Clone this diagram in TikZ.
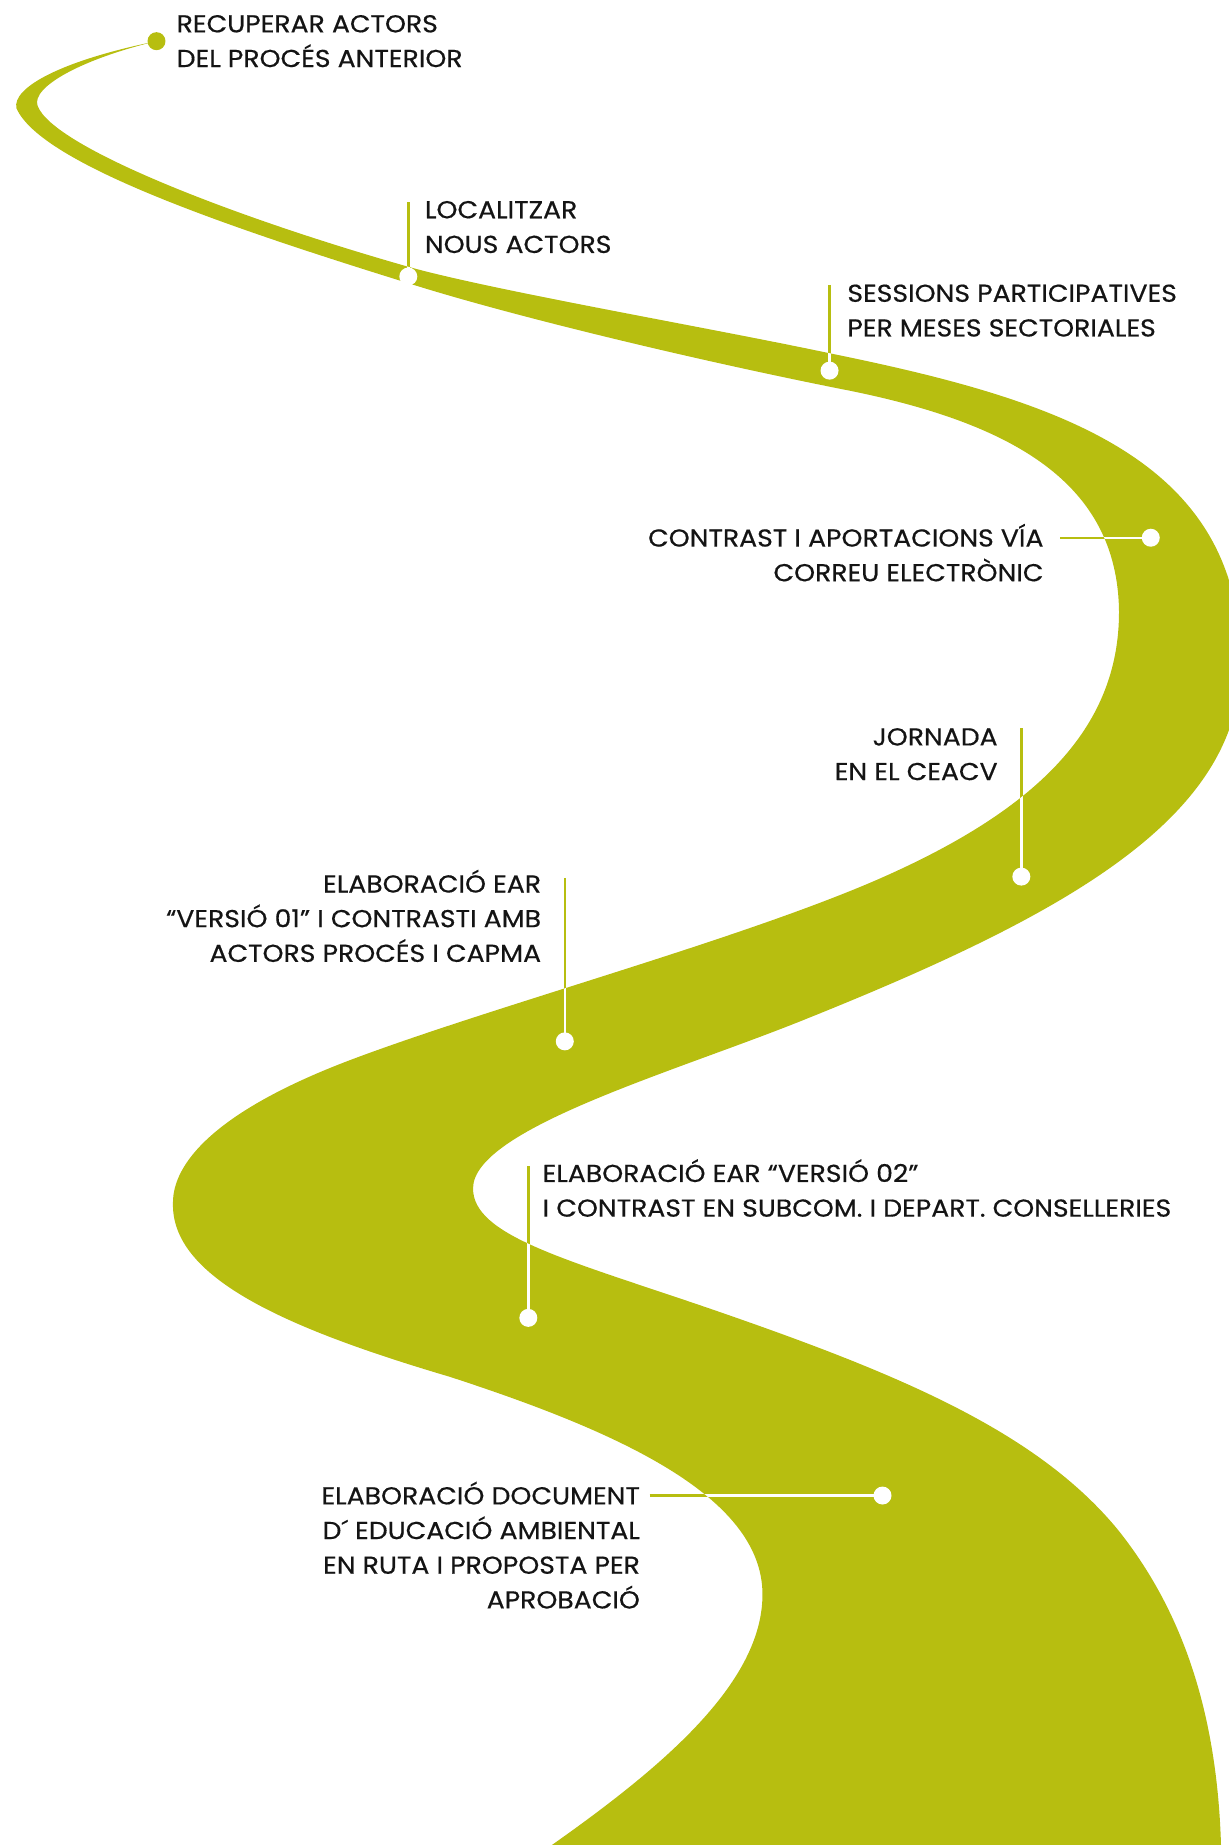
\documentclass[tikz,border=0pt]{standalone}
\usepackage{fontspec}
\setmainfont{Poppins}[FakeStretch=1.09,FakeBold=0.5]
\definecolor{road}{RGB}{183,190,16}
\definecolor{ink}{RGB}{20,20,20}
\begin{document}
\begin{tikzpicture}[x=1.1772pt,y=-1.1772pt,
  lbl/.style={inner sep=0pt,text=ink,font=\fontsize{24.5}{34.7}\selectfont},
  gline/.style={draw=road,line width=2.4pt},
  wline/.style={draw=white,line width=2.4pt},
  wdot/.style={circle,fill=white,inner sep=0pt,minimum size=18pt},
  gdot/.style={circle,fill=road,inner sep=0pt,minimum size=18pt}]
\useasboundingbox (0,0) rectangle (1044,1568);
\def\roadpath{
  (133,35) .. controls (70,50) and (26,74) .. (32,90)
  .. controls (45,125) and (200,185) .. (348,227)
  .. controls (420,247) and (600,278) .. (704,300)
  .. controls (900,340) and (1062,390) .. (1054,575)
  .. controls (1046,700) and (900,780) .. (680,868)
  .. controls (570,912) and (402,960) .. (402,1010)
  .. controls (402,1050) and (480,1070) .. (600,1111)
  .. controls (760,1166) and (880,1215) .. (950,1300)
  .. controls (1010,1375) and (1038,1470) .. (1038,1590)
  -- (430,1595)
  .. controls (540,1520) and (648,1440) .. (648,1355)
  .. controls (648,1270) and (520,1215) .. (382,1170)
  .. controls (240,1128) and (145,1085) .. (147,1022)
  .. controls (147,990) and (180,945) .. (300,900)
  .. controls (420,855) and (620,801) .. (740,750)
  .. controls (880,690) and (951,620) .. (951,520)
  .. controls (950,410) and (860,360) .. (722,332)
  .. controls (600,308) and (440,270) .. (348,241)
  .. controls (200,195) and (35,140) .. (14,92)
  .. controls (10,75) and (50,52) .. (133,35)
  -- cycle}
\fill[road] \roadpath;

% labels
\node[lbl,anchor=base west] (t1) at (150,27.5) {\begin{tabular}[t]{@{}l@{}}RECUPERAR ACTORS\\DEL PROCÉS ANTERIOR\end{tabular}};
\node[lbl,anchor=base west] (t2) at (361,185.5) {\begin{tabular}[t]{@{}l@{}}LOCALITZAR\\NOUS ACTORS\end{tabular}};
\node[lbl,anchor=base west] (t3) at (720,256.5) {\begin{tabular}[t]{@{}l@{}}SESSIONS PARTICIPATIVES\\PER MESES SECTORIALES\end{tabular}};
\node[lbl,anchor=base east] (t4) at (887,464.5) {\begin{tabular}[t]{@{}r@{}}CONTRAST I APORTACIONS VÍA\\CORREU ELECTRÒNIC\end{tabular}};
\node[lbl,anchor=base east] (t5) at (848,633.5) {\begin{tabular}[t]{@{}r@{}}JORNADA\\EN EL CEACV\end{tabular}};
\node[lbl,anchor=base east] (t6) at (460,758.5) {\begin{tabular}[t]{@{}r@{}}ELABORACIÓ EAR\\“VERSIÓ 01” I CONTRASTI AMB\\ACTORS PROCÉS I CAPMA\end{tabular}};
\node[lbl,anchor=base west] (t7) at (461,1004.5) {\begin{tabular}[t]{@{}l@{}}ELABORACIÓ EAR “VERSIÓ 02”\\I CONTRAST EN SUBCOM. I DEPART. CONSELLERIES\end{tabular}};
\node[lbl,anchor=base east] (t8) at (544,1278.5) {\begin{tabular}[t]{@{}r@{}}ELABORACIÓ DOCUMENT\\D´ EDUCACIÓ AMBIENTAL\\EN RUTA I PROPOSTA PER\\APROBACIÓ\end{tabular}};

% connector ends
\coordinate (c2) at (347,172);
\coordinate (c3) at (705,242);
\coordinate (c4) at (901,457);
\coordinate (c5) at (868,619);
\coordinate (c6) at (480,746);
\coordinate (c7) at (449,991);
\coordinate (c8) at (552,1271);
\coordinate (p2) at (347,235);
\coordinate (p3) at (705,315);
\coordinate (p4) at (978,457);
\coordinate (p5) at (868,745);
\coordinate (p6) at (480,885);
\coordinate (p7) at (449,1120);
\coordinate (p8) at (750,1271);

\foreach \a/\b in {c2/p2,c3/p3,c4/p4,c5/p5,c6/p6,c7/p7,c8/p8}{\draw[gline] (\a) -- (\b);}
\begin{scope}
\clip \roadpath;
\foreach \a/\b in {c2/p2,c3/p3,c4/p4,c5/p5,c6/p6,c7/p7,c8/p8}{\draw[wline] (\a) -- (\b);}
\end{scope}

\node[gdot] (d1) at (133,35) {};
\node[wdot] (d2) at (p2) {};
\node[wdot] (d3) at (p3) {};
\node[wdot] (d4) at (p4) {};
\node[wdot] (d5) at (p5) {};
\node[wdot] (d6) at (p6) {};
\node[wdot] (d7) at (p7) {};
\node[wdot] (d8) at (p8) {};
\end{tikzpicture}
\end{document}
